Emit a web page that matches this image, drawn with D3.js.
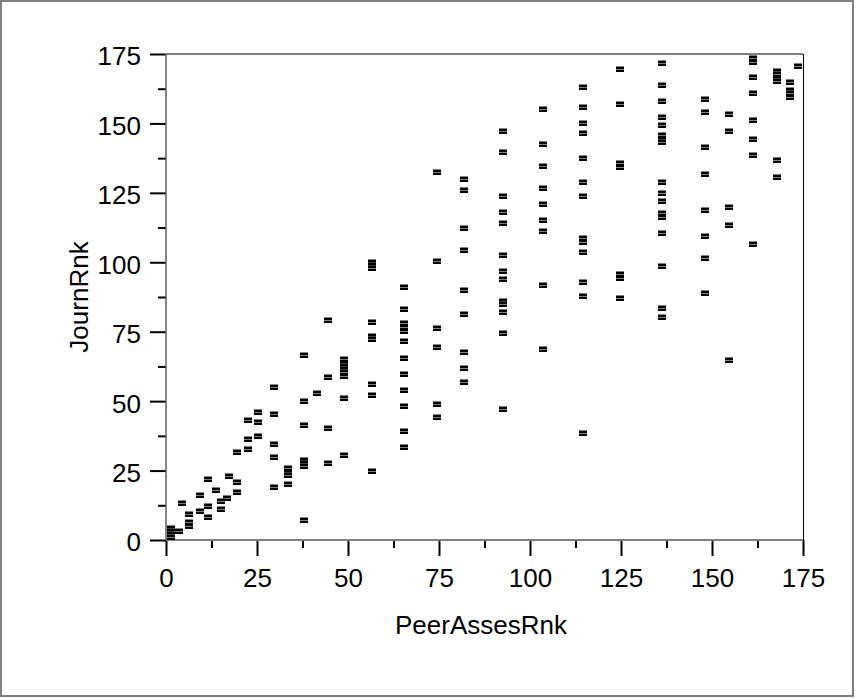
<!DOCTYPE html>
<html>
<head>
<meta charset="utf-8">
<script src="https://cdn.jsdelivr.net/npm/d3@7"></script>
<style>
  body { margin: 0; background: #fff; }
  svg { display: block; font-family: "Liberation Sans", Arial, sans-serif; }
</style>
</head>
<body>
<div id="chart"></div>
<script>
// PeerAssesRnk columns (tied ranks) and the JournRnk values found in each
var peerRnk = [1.5, 3.7, 4.3, 6.4, 9.3, 11.6, 13.7, 15.2, 16.7, 17.4, 19.6, 22.5, 25.4,
    29.8, 33.4, 37.9, 41.5, 44.4, 48.9, 56.5, 65.5, 74.4, 81.8, 92.7, 103.6, 114.5,
    124.7, 136.4, 148.1, 154.8, 161.3, 167.8, 171.5, 173.7];
var journRnk = [
    [4.5, 3.3, 2.2, 1.2],
    [3.4],
    [13.2],
    [9.3, 6.6, 5.2],
    [16.1, 10.4],
    [22.0, 12.2, 8.4],
    [18.0],
    [14.2, 11.3],
    [15.1],
    [22.9],
    [31.7, 21.0, 17.2],
    [43.3, 36.5, 32.7],
    [46.2, 42.4, 37.5],
    [55.2, 45.3, 34.7, 29.8, 19.0],
    [25.8, 24.6, 23.4, 20.0],
    [66.6, 50.2, 41.4, 28.8, 27.7, 26.6, 7.3],
    [53.0],
    [79.3, 58.8, 40.4, 27.7],
    [65.1, 63.8, 62.8, 61.7, 60.6, 59.2, 51.0, 30.7],
    [100.0, 99.0, 98.0, 78.4, 73.6, 72.4, 56.1, 52.1, 24.9],
    [91.0, 83.3, 78.0, 76.6, 75.2, 71.7, 65.7, 59.8, 54.0, 48.3, 39.4, 33.6],
    [132.6, 100.6, 76.2, 69.5, 49.1, 44.3],
    [129.9, 126.0, 112.4, 104.5, 90.0, 81.3, 67.6, 61.8, 57.0],
    [147.4, 139.6, 124.0, 118.1, 114.3, 102.6, 96.9, 93.9, 86.2, 84.9, 82.2, 74.4, 47.2],
    [155.1, 142.5, 134.7, 126.9, 121.1, 115.2, 111.4, 91.8, 68.7],
    [163.0, 156.0, 150.3, 146.4, 137.7, 128.8, 124.0, 108.6, 107.4, 103.7, 92.9, 87.9, 38.4],
    [169.6, 157.0, 135.6, 134.4, 95.8, 94.3, 87.0],
    [171.7, 163.8, 158.1, 152.2, 149.3, 145.7, 144.5, 143.3, 128.8, 125.1, 122.2, 117.6, 116.2, 110.4, 98.7, 83.4, 80.4],
    [158.9, 154.1, 141.5, 131.8, 119.0, 109.4, 101.7, 89.0],
    [153.3, 147.4, 120.0, 113.3, 64.7],
    [173.5, 172.2, 166.8, 161.0, 151.1, 144.4, 138.5, 106.5],
    [169.0, 167.8, 166.5, 165.3, 136.7, 130.8],
    [164.8, 162.0, 160.8, 159.6],
    [170.8]
];
var majorTicks = [0, 25, 50, 75, 100, 125, 150, 175];
var minorTicks = [12.5, 37.5, 62.5, 87.5, 112.5, 137.5, 162.5];

var data = [];
peerRnk.forEach(function (p, i) {
    journRnk[i].forEach(function (j) {
        data.push({ x: p, y: j });
    });
});

var W = 857, H = 698;
var svg = d3.select("#chart").append("svg")
    .attr("width", W)
    .attr("height", H);

// outer frame
svg.append("rect")
    .attr("x", 1).attr("y", 1)
    .attr("width", 852).attr("height", 695)
    .attr("fill", "#fff")
    .attr("stroke", "#808080")
    .attr("stroke-width", 2);

var x = d3.scaleLinear().domain([0, 175]).range([166, 803]);
var y = d3.scaleLinear().domain([0, 175]).range([540, 54]);

// plot frame: top gray, right black
svg.append("line")
    .attr("x1", 166).attr("x2", 803).attr("y1", 54).attr("y2", 54)
    .attr("stroke", "#808080").attr("stroke-width", 2);
svg.append("line")
    .attr("x1", 803.5).attr("x2", 803.5).attr("y1", 54).attr("y2", 540)
    .attr("stroke", "#000").attr("stroke-width", 1);

// x axis
var xAxis = d3.axisBottom(x).tickValues(majorTicks).tickSize(16).tickPadding(13);
var gx = svg.append("g").attr("transform", "translate(0,540)").call(xAxis);
svg.append("g").attr("transform", "translate(0,540)")
    .call(d3.axisBottom(x).tickValues(minorTicks).tickSize(8).tickFormat(""));

// y axis
var yAxis = d3.axisLeft(y).tickValues(majorTicks).tickSize(16).tickPadding(9);
var gy = svg.append("g").attr("transform", "translate(166,0)").call(yAxis);
svg.append("g").attr("transform", "translate(166,0)")
    .call(d3.axisLeft(y).tickValues(minorTicks).tickSize(8).tickFormat(""));

svg.selectAll(".domain").remove();
svg.selectAll(".tick line").attr("stroke", "#000").attr("stroke-width", 2);
svg.selectAll(".tick text")
    .attr("fill", "#000")
    .style("font-size", "26px")
    .style("font-family", "'Liberation Sans', Arial, sans-serif");
gy.selectAll(".tick text").attr("dy", "0.42em");

// axis lines
svg.append("line")
    .attr("x1", 166).attr("x2", 803).attr("y1", 540).attr("y2", 540)
    .attr("stroke", "#808080").attr("stroke-width", 2);
svg.append("line")
    .attr("x1", 166).attr("x2", 166).attr("y1", 54).attr("y2", 540)
    .attr("stroke", "#606060").attr("stroke-width", 1.5);

// axis titles
svg.append("text")
    .attr("x", 481).attr("y", 634)
    .attr("text-anchor", "middle")
    .style("font-size", "26px")
    .text("PeerAssesRnk");
svg.append("text")
    .attr("transform", "translate(88,297) rotate(-90)")
    .attr("text-anchor", "middle")
    .style("font-size", "26px")
    .text("JournRnk");

// markers: small "=" shaped blocks with a faint split in the middle
var marker = "M-4,-2.5h8v2.5h-8z M-4,0.5h8v2.5h-8z";
svg.append("g").selectAll("path")
    .data(data)
    .enter().append("path")
    .attr("d", marker)
    .attr("transform", function (d) {
        return "translate(" + Math.round(x(d.x)) + "," + Math.round(y(d.y)) + ")";
    })
    .attr("fill", "#000");
</script>
</body>
</html>
